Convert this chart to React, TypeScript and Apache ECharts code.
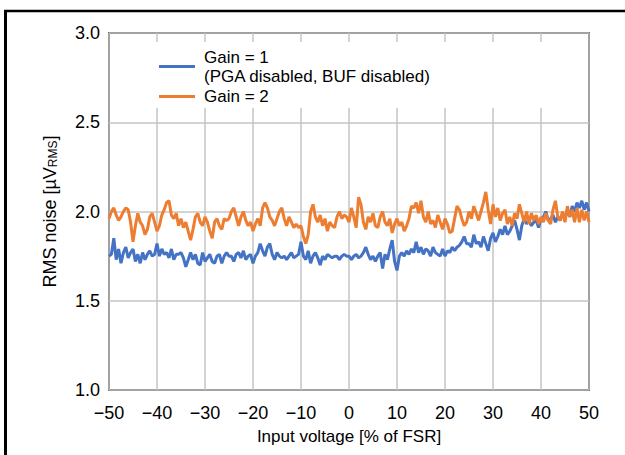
import React, { useEffect, useRef } from 'react';
import * as echarts from 'echarts';

const X_START = -50;
const X_STEP = 0.5;

// Gain = 1 (PGA disabled, BUF disabled), RMS noise in µV, sampled every 0.5 % FSR from -50 to 50
const gain1: number[] = [
  1.75, 1.76, 1.85, 1.73, 1.79, 1.71, 1.77, 1.80, 1.74, 1.77,
  1.79, 1.72, 1.76, 1.71, 1.77, 1.73, 1.76, 1.78, 1.75, 1.76,
  1.82, 1.75, 1.79, 1.76, 1.77, 1.74, 1.79, 1.73, 1.76, 1.76,
  1.77, 1.74, 1.69, 1.73, 1.77, 1.73, 1.76, 1.71, 1.70, 1.77,
  1.72, 1.74, 1.76, 1.72, 1.71, 1.75, 1.76, 1.71, 1.75, 1.77,
  1.75, 1.75, 1.72, 1.76, 1.77, 1.74, 1.78, 1.73, 1.75, 1.76,
  1.71, 1.75, 1.77, 1.82, 1.78, 1.75, 1.80, 1.82, 1.76, 1.73,
  1.77, 1.75, 1.74, 1.75, 1.73, 1.75, 1.77, 1.74, 1.75, 1.76,
  1.83, 1.75, 1.73, 1.78, 1.71, 1.75, 1.77, 1.74, 1.70, 1.75,
  1.73, 1.76, 1.75, 1.74, 1.75, 1.75, 1.73, 1.75, 1.76, 1.75,
  1.75, 1.73, 1.75, 1.76, 1.74, 1.75, 1.77, 1.80, 1.76, 1.73,
  1.75, 1.72, 1.75, 1.77, 1.68, 1.76, 1.73, 1.79, 1.84, 1.72,
  1.67, 1.75, 1.77, 1.75, 1.78, 1.76, 1.79, 1.77, 1.83, 1.77,
  1.80, 1.76, 1.79, 1.78, 1.75, 1.80, 1.77, 1.76, 1.75, 1.79,
  1.75, 1.78, 1.77, 1.80, 1.78, 1.80, 1.81, 1.83, 1.86, 1.82,
  1.82, 1.80, 1.87, 1.82, 1.83, 1.80, 1.86, 1.82, 1.78, 1.85,
  1.88, 1.83, 1.86, 1.90, 1.87, 1.92, 1.87, 1.89, 1.92, 1.95,
  1.90, 1.84, 1.92, 1.96, 1.93, 1.95, 1.92, 1.94, 1.95, 1.91,
  1.96, 1.97, 2.00, 1.95, 1.96, 1.98, 1.94, 1.97, 1.95, 1.99,
  1.96, 2.01, 1.97, 2.03, 2.00, 2.05, 2.02, 2.06, 2.01, 2.05,
  2.00,
];

// Gain = 2
const gain2: number[] = [
  1.96, 2.00, 2.02, 1.98, 1.95, 1.97, 2.00, 2.02, 2.01, 1.94,
  1.83, 1.92, 1.99, 1.94, 1.92, 1.87, 1.90, 1.97, 1.99, 1.94,
  1.89, 1.92, 1.98, 2.01, 2.05, 2.06, 1.98, 1.96, 1.99, 1.92,
  1.96, 1.91, 1.94, 1.89, 1.84, 1.90, 1.97, 1.99, 1.94, 1.92,
  1.97, 1.94, 1.89, 1.85, 1.94, 1.96, 1.92, 1.90, 1.96, 1.95,
  1.96, 2.00, 2.02, 1.97, 1.92, 1.97, 2.00, 1.95, 1.92, 1.94,
  1.89, 1.93, 1.96, 1.92, 2.02, 2.05, 2.02, 1.97, 1.95, 1.92,
  1.96, 2.00, 2.02, 1.96, 1.92, 1.97, 1.94, 1.91, 1.93, 1.91,
  1.92, 1.86, 1.82, 1.87, 2.00, 2.04, 1.97, 1.94, 1.98, 1.92,
  1.96, 1.89, 1.94, 1.92, 1.91, 1.97, 2.00, 1.96, 1.98, 1.97,
  1.94, 2.02, 1.97, 1.91, 2.08, 2.04, 1.94, 1.90, 1.97, 1.94,
  1.99, 1.92, 1.91, 1.97, 2.00, 1.94, 1.92, 1.96, 1.88, 1.93,
  1.96, 1.92, 1.94, 1.89, 1.92, 1.96, 2.03, 2.02, 2.05, 1.99,
  2.06, 1.97, 1.94, 2.00, 1.93, 1.95, 1.91, 1.98, 1.94, 1.90,
  1.96, 1.93, 1.88, 1.89, 1.96, 2.03, 2.01, 1.96, 1.92, 1.94,
  2.00, 1.96, 2.03, 1.99, 1.95, 2.00, 2.05, 2.11, 2.01, 1.93,
  2.04, 1.97, 2.02, 1.95, 1.99, 2.01, 1.93, 1.97, 1.92, 1.99,
  1.96, 2.04, 1.99, 1.94, 2.00, 1.93, 1.99, 1.95, 1.98, 1.93,
  1.97, 1.94, 1.99, 1.95, 1.93, 2.01, 2.06, 1.97, 1.95, 2.00,
  1.94, 2.03, 1.97, 2.01, 1.94, 2.02, 1.94, 2.01, 1.95, 2.00,
  1.94,
];

const seriesNames = ['Gain = 1', 'Gain = 2'];
const legendSubline = '(PGA disabled, BUF disabled)';
const xAxisTitle = 'Input voltage [% of FSR]';
const yAxisTitle = 'RMS noise [µV{sub|RMS}]';

const FONT = "'Liberation Sans', Arial, Helvetica, sans-serif";
const FS = 18;
const BLUE = '#4472C4';
const ORANGE = '#ED7D31';

export default function App() {
  const ref = useRef<HTMLDivElement>(null);

  useEffect(() => {
    if (!ref.current) return;
    const chart = echarts.init(ref.current, null, { renderer: 'svg' });
    const toPairs = (arr: number[]) => arr.map((v, i) => [X_START + i * X_STEP, v]);

    chart.setOption({
      animation: false,
      backgroundColor: '#fff',
      textStyle: { fontFamily: FONT },
      grid: {
        left: 109,
        right: 36,
        top: 33,
        bottom: 65,
        show: true,
        borderColor: '#000',
        borderWidth: 1.5,
        backgroundColor: 'transparent',
      },
      legend: {
        left: 159,
        top: 38,
        orient: 'vertical',
        padding: 0,
        itemWidth: 36,
        itemHeight: 3,
        itemGap: -8,
        icon: 'rect',
        data: [
          { name: seriesNames[0], textStyle: { padding: [19, 0, 0, 4] } },
          { name: seriesNames[1], textStyle: { padding: [0, 0, 0, 4] } },
        ],
        formatter: (name: string) => (name === seriesNames[0] ? `${name}\n${legendSubline}` : name),
        textStyle: { fontSize: FS - 1, color: '#000', lineHeight: 19, fontFamily: FONT },
      },
      xAxis: {
        type: 'value',
        min: -50,
        max: 50,
        interval: 10,
        axisLine: { show: false },
        axisTick: { show: false },
        splitLine: { lineStyle: { color: '#c4c4c4', width: 1.5 } },
        axisLabel: {
          fontSize: FS,
          color: '#000',
          margin: 14,
          fontFamily: FONT,
          formatter: (v: number) => String(v).replace('-', '\u2212'),
        },
        name: xAxisTitle,
        nameLocation: 'middle',
        nameGap: 38,
        nameTextStyle: { fontSize: FS - 1, color: '#000', fontFamily: FONT },
      },
      yAxis: {
        type: 'value',
        min: 1,
        max: 3,
        interval: 0.5,
        axisLine: { show: false },
        axisTick: { show: false },
        splitLine: { lineStyle: { color: '#c4c4c4', width: 1.5 } },
        axisLabel: {
          fontSize: FS,
          color: '#000',
          margin: 9,
          fontFamily: FONT,
          formatter: (v: number) => v.toFixed(1),
        },
        name: yAxisTitle,
        nameLocation: 'middle',
        nameGap: 50,
        nameRotate: 90,
        nameTextStyle: {
          fontSize: FS,
          color: '#000',
          fontFamily: FONT,
          rich: {
            sub: { fontSize: 12, color: '#000', fontFamily: FONT, verticalAlign: 'bottom', padding: [6, 0, 0, 0] },
          },
        },
      },
      graphic: [
        {
          type: 'rect',
          z: 3,
          shape: { x: 111, y: 42, width: 476, height: 66 },
          style: { fill: '#fff' },
          silent: true,
        },
        {
          type: 'line',
          z: 10,
          shape: { x1: 4, y1: 11, x2: 625, y2: 11 },
          style: { stroke: '#000', lineWidth: 2.5 },
        },
        {
          type: 'line',
          z: 10,
          shape: { x1: 5.5, y1: 10, x2: 5.5, y2: 455 },
          style: { stroke: '#000', lineWidth: 3 },
        },
      ],
      series: [
        {
          name: seriesNames[0],
          type: 'line',
          data: toPairs(gain1),
          showSymbol: false,
          symbol: 'none',
          color: BLUE,
          lineStyle: { width: 3, color: BLUE },
          z: 2,
        },
        {
          name: seriesNames[1],
          type: 'line',
          data: toPairs(gain2),
          showSymbol: false,
          symbol: 'none',
          color: ORANGE,
          lineStyle: { width: 3, color: ORANGE },
          z: 2,
        },
      ],
    });

    return () => chart.dispose();
  }, []);

  return (
    <div
      ref={ref}
      style={{ width: 625, height: 455, position: 'absolute', left: 0, top: 0 }}
    />
  );
}
